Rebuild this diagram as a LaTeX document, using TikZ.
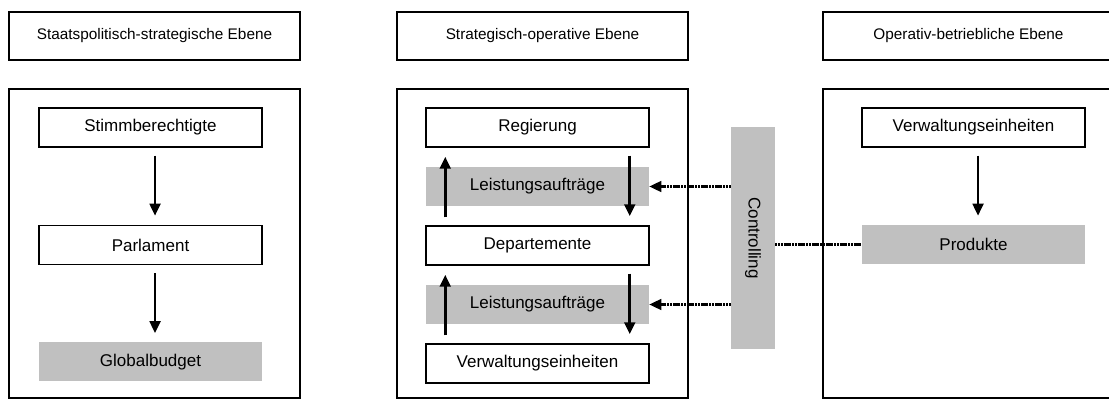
\documentclass[tikz,border=0pt]{standalone}
\usepackage{fontspec}
\setmainfont{Liberation Sans}
\usetikzlibrary{arrows.meta,positioning}
\definecolor{Shade}{HTML}{C0C0C0}
\tikzset{
  headbox/.style={draw,line width=1.1pt,minimum width=218.25pt,minimum height=36pt,inner sep=0pt,font=\fontsize{11.5}{13}\selectfont},
  panelbox/.style={draw,line width=1.1pt,minimum width=218.25pt,minimum height=231.75pt,inner sep=0pt},
  nodebox/.style={draw,line width=1.1pt,minimum width=167.25pt,minimum height=29.25pt,inner sep=0pt,font=\fontsize{12.75}{15}\selectfont},
  shadebox/.style={fill=Shade,minimum width=167.25pt,minimum height=29.25pt,inner sep=0pt,font=\fontsize{12.75}{15}\selectfont},
  ctrlbox/.style={fill=Shade,minimum width=33pt,minimum height=166.5pt,inner sep=0pt,font=\fontsize{12.75}{15}\selectfont},
  line/.style={-{Triangle[length=9pt,width=8pt]},line width=2.1pt,shorten <=6pt,shorten >=6.75pt},
  dotline/.style={line width=1.8pt,dash pattern=on 1.6pt off 0.5pt},
  dotarrow/.style={dotline,-{Triangle[length=9pt,width=8pt]}}
}

\begin{document}
\begin{tikzpicture}[x=0.75pt,y=-0.75pt,node distance=14.25pt]
  \useasboundingbox (0,0) rectangle (1109,414);
  \clip (0,0) rectangle (1109,414);
  % headers
  \node[headbox] (h1) at (154.5,36) {Staatspolitisch-strategische Ebene};
  \node[headbox] (h2) at (542.5,36) {Strategisch-operative Ebene};
  \node[headbox] (h3) at (968.5,36) {Operativ-betriebliche Ebene};
  % panels
  \node[panelbox] (p1) at (154.5,243.5) {};
  \node[panelbox] (p2) at (542.5,243.5) {};
  \node[panelbox] (p3) at (968.5,243.5) {};
  % left column
  \node[nodebox] (s) at (150.5,127.5) {Stimmberechtigte};
  \node[nodebox,below=57.75pt of s] (p) {Parlament};
  \node[shadebox,below=57.75pt of p] (g) {Globalbudget};
  \draw[line] ([xshift=3.4pt]s.south) -- ([xshift=3.4pt]p.north);
  \draw[line] ([xshift=3.4pt]p.south) -- ([xshift=3.4pt]g.north);
  % middle column
  \node[nodebox] (r) at (537.5,127.5) {Regierung};
  \node[shadebox,below=of r] (l1) {Leistungsaufträge};
  \node[nodebox,below=of l1] (d) {Departemente};
  \node[shadebox,below=of d] (l2) {Leistungsaufträge};
  \node[nodebox,below=of l2] (v) {Verwaltungseinheiten};
  \draw[line] ([xshift=15pt]d.north west) -- ([xshift=15pt]r.south west);
  \draw[line] ([xshift=-15pt]r.south east) -- ([xshift=-15pt]d.north east);
  \draw[line] ([xshift=15pt]v.north west) -- ([xshift=15pt]d.south west);
  \draw[line] ([xshift=-15pt]d.south east) -- ([xshift=-15pt]v.north east);
  % right column
  \node[nodebox] (w) at (973.5,127.5) {Verwaltungseinheiten};
  \node[shadebox,below=57.75pt of w] (pr) {Produkte};
  \draw[line] ([xshift=3.4pt]w.south) -- ([xshift=3.4pt]pr.north);
  % controlling
  \node[ctrlbox] (c) at (753,238) {\rotatebox{-90}{Controlling}};
  \draw[dotarrow] (c.west |- l1.east) -- (l1.east);
  \draw[dotarrow] (c.west |- l2.east) -- (l2.east);
  \draw[dotline] (c.east |- pr.west) -- (pr.west);
\end{tikzpicture}
\end{document}
